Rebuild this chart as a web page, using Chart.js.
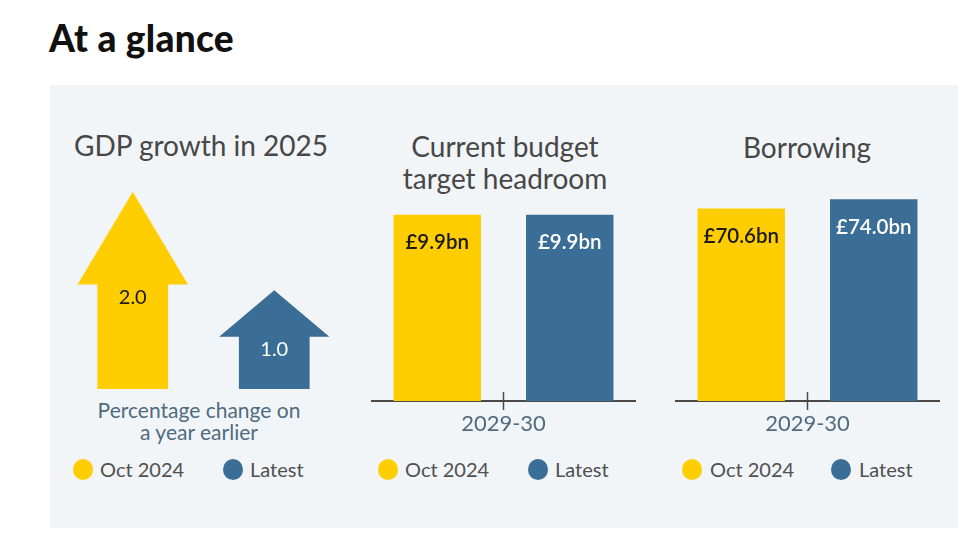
<!DOCTYPE html>
<html lang="en">
<head>
<meta charset="UTF-8">
<title>At a glance</title>
<script src="https://cdn.jsdelivr.net/npm/chart.js"></script>
<style>
    body { margin: 0; width: 980px; height: 556px; background: #fff; position: relative; overflow: hidden; font-family: Lato, "Open Sans", sans-serif; }
    h1 { position: absolute; left: 49px; top: 15px; margin: 0; font-size: 37px; font-weight: 900; color: #111; letter-spacing: 0.3px; }
    #panel { position: absolute; left: 50px; top: 85px; width: 908px; height: 443px; background: #f2f5f8; }
    .ttl { position: absolute; width: 300px; text-align: center; font-size: 28px; line-height: 32px; color: #474747; }
    .note { position: absolute; left: 49px; top: 399px; width: 300px; text-align: center; font-size: 21px; line-height: 22px; color: #4f6b80; }
    .dot { position: absolute; width: 20px; height: 21px; border-radius: 50%; top: 459px; }
    .lg { position: absolute; top: 457px; font-size: 20px; line-height: 24px; color: #505050; }
    canvas { position: absolute; }
</style>
</head>
<body>
    <h1>At a glance</h1>
    <div id="panel"></div>

    <div class="ttl" style="left:51px; top:129px;">GDP growth in 2025</div>
    <div class="ttl" style="left:355px; top:130px;">Current budget<br>target headroom</div>
    <div class="ttl" style="left:657px; top:131px;">Borrowing</div>

    <div class="note">Percentage change on<br>a year earlier</div>

    <div id="legends"></div>

    <canvas id="gdp" style="left:62px; top:172px;" width="283" height="217"></canvas>
    <canvas id="headroom" style="left:371px; top:194px;" width="265" height="247"></canvas>
    <canvas id="borrowing" style="left:675px; top:183px;" width="265" height="258"></canvas>

<script>
    const seriesNames = ['Oct 2024', 'Latest'];
    const seriesColors = ['#ffcd00', '#3b6e96'];
    const labelColors = ['#1a1a1a', '#ffffff'];

    const gdpGrowth = [2.0, 1.0];

    const yearLabels = ['2029-30'];
    const headroomOct = [9.9];
    const headroomLatest = [9.9];
    const borrowingOct = [70.6];
    const borrowingLatest = [74.0];

    // legends (html)
    const legendSpots = [[83, 100, 233, 250], [388, 405, 538, 555], [692, 710, 841, 859]];
    const legendBox = document.getElementById('legends');
    legendSpots.forEach(s => {
        seriesNames.forEach((name, i) => {
            const d = document.createElement('div');
            d.className = 'dot';
            d.style.left = (s[i * 2] - 10) + 'px';
            d.style.background = seriesColors[i];
            legendBox.appendChild(d);
            const t = document.createElement('div');
            t.className = 'lg';
            t.style.left = s[i * 2 + 1] + 'px';
            t.textContent = name;
            legendBox.appendChild(t);
        });
    });

    // draw bars of gdp chart as up arrows
    const arrowPlugin = {
        id: 'arrows',
        beforeDatasetDraw(chart, args) {
            const ctx = chart.ctx;
            args.meta.data.forEach((el, i) => {
                const top = el.y, base = el.base, x = el.x;
                const len = base - top;
                const headH = len * 0.47;
                const shaftW = el.width;
                const headW = shaftW * 1.56;
                ctx.save();
                ctx.fillStyle = seriesColors[i];
                ctx.beginPath();
                ctx.moveTo(x, top);
                ctx.lineTo(x + headW / 2, top + headH);
                ctx.lineTo(x + shaftW / 2, top + headH);
                ctx.lineTo(x + shaftW / 2, base);
                ctx.lineTo(x - shaftW / 2, base);
                ctx.lineTo(x - shaftW / 2, top + headH);
                ctx.lineTo(x - headW / 2, top + headH);
                ctx.closePath();
                ctx.fill();
                ctx.fillStyle = labelColors[i];
                ctx.font = '20px Lato, sans-serif';
                ctx.textAlign = 'center';
                ctx.textBaseline = 'middle';
                ctx.fillText(gdpGrowth[i].toFixed(1), x, top + headH + 13);
                ctx.restore();
            });
            return false;
        }
    };

    // value labels inside bar tops + crossing tick mark
    const barLabelPlugin = {
        id: 'barLabels',
        afterDatasetsDraw(chart) {
            const ctx = chart.ctx;
            chart.data.datasets.forEach((ds, di) => {
                chart.getDatasetMeta(di).data.forEach((el, i) => {
                    ctx.save();
                    ctx.fillStyle = labelColors[di];
                    ctx.font = '600 20.5px Lato, sans-serif';
                    ctx.textAlign = 'center';
                    ctx.textBaseline = 'middle';
                    ctx.fillText('£' + ds.data[i].toFixed(1) + 'bn', el.x, el.y + 28);
                    ctx.restore();
                });
            });
        },
        afterDraw(chart) {
            const xs = chart.scales.x;
            const ctx = chart.ctx;
            xs.ticks.forEach((t, i) => {
                const x = xs.getPixelForTick(i);
                ctx.save();
                ctx.strokeStyle = '#4a4a4a';
                ctx.lineWidth = 1.5;
                ctx.beginPath();
                ctx.moveTo(x, xs.top - 9);
                ctx.lineTo(x, xs.top + 9);
                ctx.stroke();
                ctx.restore();
            });
        }
    };

    new Chart(document.getElementById('gdp'), {
        type: 'bar',
        data: {
            labels: seriesNames,
            datasets: [{ data: gdpGrowth, backgroundColor: seriesColors, categoryPercentage: 1, barPercentage: 0.5 }]
        },
        options: {
            responsive: false,
            animation: false,
            layout: { padding: 0 },
            plugins: { legend: { display: false }, tooltip: { enabled: false } },
            scales: {
                x: { display: false },
                y: { display: false, min: 0, max: 2.2 }
            }
        },
        plugins: [arrowPlugin]
    });

    function makeBarChart(id, octVals, latestVals, yMax) {
        return new Chart(document.getElementById(id), {
            type: 'bar',
            data: {
                labels: yearLabels,
                datasets: [
                    { label: seriesNames[0], data: octVals, backgroundColor: seriesColors[0] },
                    { label: seriesNames[1], data: latestVals, backgroundColor: seriesColors[1] }
                ]
            },
            options: {
                responsive: false,
                animation: false,
                layout: { padding: 0 },
                datasets: { bar: { categoryPercentage: 1, barPercentage: 0.66 } },
                plugins: { legend: { display: false }, tooltip: { enabled: false } },
                scales: {
                    x: {
                        grid: { display: true, drawOnChartArea: false, drawTicks: false },
                        border: { display: true, color: '#4a4a4a', width: 2 },
                        ticks: { padding: 10, color: '#4f6b80', font: { family: 'Lato', size: 22 } },
                        afterFit: s => { s.height = 40; }
                    },
                    y: { display: false, min: 0, max: yMax }
                }
            },
            plugins: [barLabelPlugin]
        });
    }

    makeBarChart('headroom', headroomOct, headroomLatest, 11);
    makeBarChart('borrowing', borrowingOct, borrowingLatest, 80);
</script>
</body>
</html>
